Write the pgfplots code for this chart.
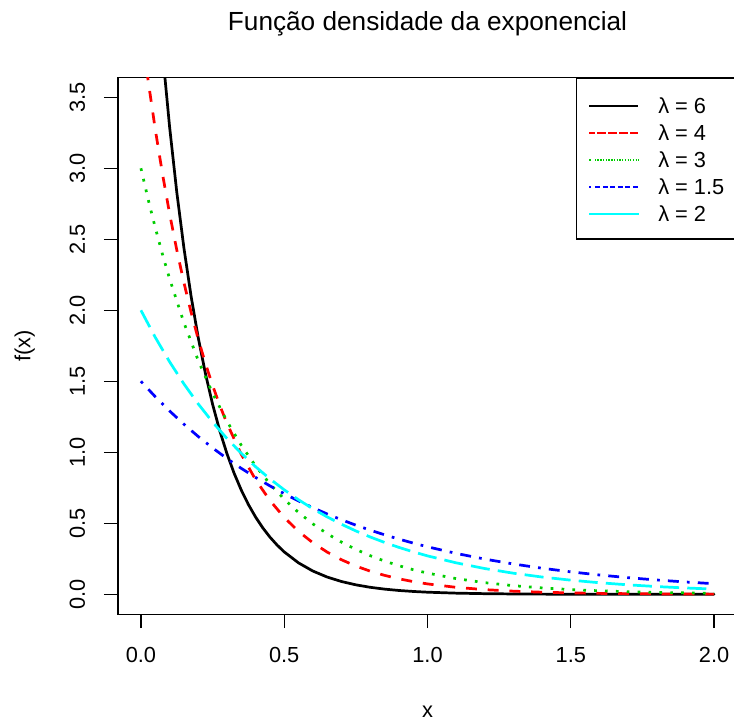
\documentclass[border=0pt]{standalone}
\usepackage{pgfplots}
\pgfplotsset{compat=1.18}
\usepackage{fontspec}
\setmainfont{Liberation Sans}
\definecolor{rgreen}{RGB}{0,205,0}
\definecolor{rblue}{RGB}{0,0,255}
\definecolor{rcyan}{RGB}{0,255,255}
\definecolor{rred}{RGB}{255,0,0}
\newcommand{\basefont}{\fontsize{10.9}{13}\selectfont}

\begin{document}
\begin{tikzpicture}
\path[use as bounding box] (0,0) rectangle (367pt,361pt);
\begin{axis}[
  at={(59pt,53.9pt)}, anchor=south west,
  scale only axis, width=309.5pt, height=268.4pt,
  xmin=-0.08, xmax=2.08, ymin=-0.14, ymax=3.64,
  axis line style={line width=0.68pt},
  xtick={0,0.5,1,1.5,2},
  xticklabels={0.0,0.5,1.0,1.5,2.0},
  ytick={0,0.5,1,1.5,2,2.5,3,3.5},
  yticklabels={0.0,0.5,1.0,1.5,2.0,2.5,3.0,3.5},
  xtick pos=bottom, ytick pos=left,
  tick align=outside, major tick length=7pt,
  tick style={line width=0.68pt, black},
  every tick label/.append style={font=\basefont, inner sep=0pt},
  xticklabel style={anchor=north},
  xticklabel shift=9.5pt,
  yticklabel style={rotate=90, anchor=base},
  yticklabel shift=9.5pt,
  title={Função densidade da exponencial},
  title style={at={(axis description cs:0.5,1.0641)}, anchor=base,
    inner sep=0pt, font=\fontsize{13.1}{15}\selectfont},
  xlabel={x},
  xlabel style={at={(axis description cs:0.5,-0.19151)}, anchor=base,
    inner sep=0pt, font=\basefont},
  ylabel={f(x)},
  ylabel style={at={(axis description cs:-0.1414,0.5)}, anchor=base,
    inner sep=0pt, font=\basefont},
  legend style={at={(rel axis cs:1,1)}, anchor=north east,
    draw=black, line width=0.68pt, fill=white,
    inner xsep=6pt, inner ysep=6.5pt, column sep=9.5pt,
    nodes={inner sep=0pt, text height=11.4pt, text depth=2.1pt, font=\basefont}},
  legend cell align=left,
  legend image code/.code={
    \path (0pt,-0.75pt) -- (24.5pt,-0.75pt);
    \draw[#1] (4pt,-0.75pt) -- (24.5pt,-0.75pt);
  },
]

% lambda = 6
\addplot[forget plot, black, line width=1.36pt, line cap=round, line join=round]
coordinates {
(0,6) (0.025,5.1642) (0.05,4.4449) (0.075,3.8258) (0.1,3.2929) (0.125,2.8342)
(0.15,2.4394) (0.175,2.0996) (0.2,1.8072) (0.225,1.5554) (0.25,1.3388)
(0.275,1.1523) (0.3,0.9918) (0.325,0.8536) (0.35,0.7347) (0.375,0.6324)
(0.4,0.5443) (0.425,0.4685) (0.45,0.4032) (0.475,0.3471) (0.5,0.2987)
(0.55,0.2213) (0.6,0.1639) (0.65,0.1215) (0.7,0.0900) (0.75,0.0667)
(0.8,0.0494) (0.85,0.0366) (0.9,0.0271) (0.95,0.0201) (1,0.0149)
(1.1,0.0082) (1.2,0.0045) (1.3,0.0025) (1.4,0.0013) (1.5,0.0007)
(1.6,0.0004) (1.7,0.0002) (1.8,0.0001) (1.9,0.0001) (2,0.0000)
};

% lambda = 4
\addplot[forget plot, rred, line width=1.36pt, line cap=butt, line join=round,
  dash pattern=on 5.44pt off 5.44pt]
coordinates {
(0,4) (0.025,3.6193) (0.05,3.2749) (0.075,2.9633) (0.1,2.6813) (0.125,2.4261)
(0.15,2.1952) (0.175,1.9863) (0.2,1.7973) (0.225,1.6263) (0.25,1.4715)
(0.275,1.3315) (0.3,1.2048) (0.35,0.9864) (0.4,0.8076) (0.45,0.6612)
(0.5,0.5413) (0.55,0.4432) (0.6,0.3629) (0.65,0.2971) (0.7,0.2432)
(0.75,0.1991) (0.8,0.1630) (0.85,0.1335) (0.9,0.1093) (0.95,0.0895)
(1,0.0733) (1.1,0.0491) (1.2,0.0329) (1.3,0.0221) (1.4,0.0148)
(1.5,0.0099) (1.6,0.0066) (1.7,0.0045) (1.8,0.0030) (1.9,0.0020) (2,0.0013)
};

% lambda = 3
\addplot[forget plot, rgreen, line width=1.36pt, line cap=butt, line join=round,
  dash pattern=on 1.36pt off 4.08pt]
coordinates {
(0,3) (0.025,2.7832) (0.05,2.5821) (0.075,2.3955) (0.1,2.2225) (0.15,1.9129)
(0.2,1.6464) (0.25,1.4171) (0.3,1.2197) (0.35,1.0498) (0.4,0.9036)
(0.45,0.7777) (0.5,0.6694) (0.55,0.5762) (0.6,0.4959) (0.65,0.4268)
(0.7,0.3674) (0.75,0.3162) (0.8,0.2722) (0.85,0.2342) (0.9,0.2016)
(0.95,0.1735) (1,0.1494) (1.1,0.1106) (1.2,0.0820) (1.3,0.0607)
(1.4,0.0450) (1.5,0.0333) (1.6,0.0247) (1.7,0.0183) (1.8,0.0136)
(1.9,0.0100) (2,0.0074)
};

% lambda = 1.5
\addplot[forget plot, rblue, line width=1.36pt, line cap=butt, line join=round,
  dash pattern=on 1.36pt off 4.08pt on 5.44pt off 4.08pt]
coordinates {
(0,1.5) (0.05,1.3916) (0.1,1.2911) (0.15,1.1978) (0.2,1.1112) (0.25,1.0309)
(0.3,0.9564) (0.35,0.8873) (0.4,0.8232) (0.45,0.7637) (0.5,0.7086)
(0.55,0.6574) (0.6,0.6099) (0.65,0.5658) (0.7,0.5249) (0.75,0.4870)
(0.8,0.4518) (0.85,0.4191) (0.9,0.3889) (0.95,0.3608) (1,0.3347)
(1.1,0.2881) (1.2,0.2479) (1.3,0.2134) (1.4,0.1837) (1.5,0.1581)
(1.6,0.1361) (1.7,0.1171) (1.8,0.1008) (1.9,0.0868) (2,0.0747)
};

% lambda = 2
\addplot[forget plot, rcyan, line width=1.36pt, line cap=butt, line join=round,
  dash pattern=on 9.52pt off 4.08pt]
coordinates {
(0,2) (0.05,1.8097) (0.1,1.6375) (0.15,1.4816) (0.2,1.3406) (0.25,1.2131)
(0.3,1.0976) (0.35,0.9932) (0.4,0.8987) (0.45,0.8131) (0.5,0.7358)
(0.55,0.6657) (0.6,0.6024) (0.65,0.5451) (0.7,0.4932) (0.75,0.4463)
(0.8,0.4038) (0.85,0.3654) (0.9,0.3306) (0.95,0.2991) (1,0.2707)
(1.1,0.2216) (1.2,0.1814) (1.3,0.1485) (1.4,0.1216) (1.5,0.0996)
(1.6,0.0815) (1.7,0.0667) (1.8,0.0546) (1.9,0.0447) (2,0.0366)
};

\addlegendimage{draw=black, line width=0.8pt, line cap=butt, solid}
\addlegendentry{λ = 6}
\addlegendimage{draw=rred, line width=0.8pt, line cap=butt, dash pattern=on 2.72pt off 2.72pt}
\addlegendentry{λ = 4}
\addlegendimage{draw=rgreen, line width=0.8pt, line cap=butt, dash pattern=on 0.68pt off 2.04pt}
\addlegendentry{λ = 3}
\addlegendimage{draw=rblue, line width=0.8pt, line cap=butt, dash pattern=on 0.68pt off 2.04pt on 2.72pt off 2.04pt}
\addlegendentry{λ = 1.5}
\addlegendimage{draw=rcyan, line width=0.8pt, line cap=butt, dash pattern=on 4.76pt off 2.04pt}
\addlegendentry{λ = 2}
\end{axis}
\end{tikzpicture}
\end{document}
